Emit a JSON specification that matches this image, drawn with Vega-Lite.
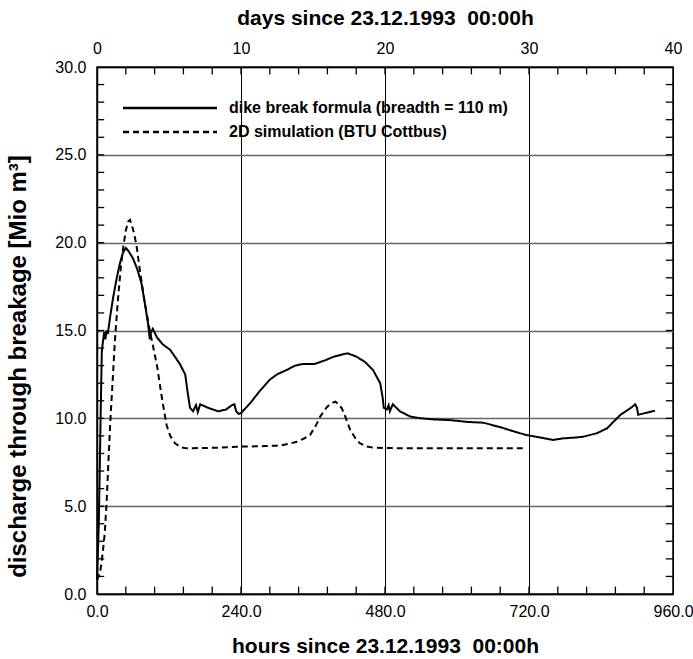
{
  "$schema": "https://vega.github.io/schema/vega-lite/v6.json",
  "width": 576,
  "height": 527,
  "autosize": {"type": "none"},
  "padding": {"left": 97, "top": 67, "right": 20, "bottom": 65},
  "background": "white",
  "config": {
    "view": {"stroke": "black", "strokeWidth": 1.5},
    "font": "Liberation Sans",
    "axis": {
      "labelFont": "Liberation Sans",
      "labelFontSize": 16,
      "labelColor": "black",
      "titleFont": "Liberation Sans",
      "titleFontSize": 21,
      "titleFontWeight": "bold",
      "titleColor": "black",
      "domainColor": "black",
      "domainWidth": 1.5,
      "labelFlush": false,
      "labelOverlap": false
    }
  },
  "datasets": {
    "hticks": [
      {"hours": 48}, {"hours": 96}, {"hours": 144}, {"hours": 192}, {"hours": 240}, {"hours": 288}, {"hours": 336}, {"hours": 384}, {"hours": 432}, {"hours": 480},
      {"hours": 528}, {"hours": 576}, {"hours": 624}, {"hours": 672}, {"hours": 720}, {"hours": 768}, {"hours": 816}, {"hours": 864}, {"hours": 912}
    ],
    "vticks": [
      {"value": 1}, {"value": 2}, {"value": 3}, {"value": 4}, {"value": 5}, {"value": 6}, {"value": 7}, {"value": 8}, {"value": 9}, {"value": 10},
      {"value": 11}, {"value": 12}, {"value": 13}, {"value": 14}, {"value": 15}, {"value": 16}, {"value": 17}, {"value": 18}, {"value": 19}, {"value": 20},
      {"value": 21}, {"value": 22}, {"value": 23}, {"value": 24}, {"value": 25}, {"value": 26}, {"value": 27}, {"value": 28}, {"value": 29}
    ],
    "flow": [
      {"hours": 0, "value": 0.8, "series": "dike break formula (breadth = 110 m)"},
      {"hours": 3, "value": 4.0, "series": "dike break formula (breadth = 110 m)"},
      {"hours": 6, "value": 10.0, "series": "dike break formula (breadth = 110 m)"},
      {"hours": 8, "value": 13.8, "series": "dike break formula (breadth = 110 m)"},
      {"hours": 10, "value": 14.4, "series": "dike break formula (breadth = 110 m)"},
      {"hours": 12, "value": 14.9, "series": "dike break formula (breadth = 110 m)"},
      {"hours": 14, "value": 14.5, "series": "dike break formula (breadth = 110 m)"},
      {"hours": 16, "value": 15.0, "series": "dike break formula (breadth = 110 m)"},
      {"hours": 18, "value": 14.8, "series": "dike break formula (breadth = 110 m)"},
      {"hours": 22, "value": 15.8, "series": "dike break formula (breadth = 110 m)"},
      {"hours": 27, "value": 16.9, "series": "dike break formula (breadth = 110 m)"},
      {"hours": 33, "value": 18.0, "series": "dike break formula (breadth = 110 m)"},
      {"hours": 38, "value": 18.8, "series": "dike break formula (breadth = 110 m)"},
      {"hours": 43, "value": 19.4, "series": "dike break formula (breadth = 110 m)"},
      {"hours": 48, "value": 19.7, "series": "dike break formula (breadth = 110 m)"},
      {"hours": 53, "value": 19.5, "series": "dike break formula (breadth = 110 m)"},
      {"hours": 60, "value": 19.1, "series": "dike break formula (breadth = 110 m)"},
      {"hours": 67, "value": 18.5, "series": "dike break formula (breadth = 110 m)"},
      {"hours": 74, "value": 17.7, "series": "dike break formula (breadth = 110 m)"},
      {"hours": 80, "value": 16.5, "series": "dike break formula (breadth = 110 m)"},
      {"hours": 85, "value": 15.4, "series": "dike break formula (breadth = 110 m)"},
      {"hours": 88, "value": 14.5, "series": "dike break formula (breadth = 110 m)"},
      {"hours": 90, "value": 14.9, "series": "dike break formula (breadth = 110 m)"},
      {"hours": 93, "value": 15.1, "series": "dike break formula (breadth = 110 m)"},
      {"hours": 100, "value": 14.6, "series": "dike break formula (breadth = 110 m)"},
      {"hours": 110, "value": 14.2, "series": "dike break formula (breadth = 110 m)"},
      {"hours": 122, "value": 13.9, "series": "dike break formula (breadth = 110 m)"},
      {"hours": 138, "value": 13.1, "series": "dike break formula (breadth = 110 m)"},
      {"hours": 147, "value": 12.5, "series": "dike break formula (breadth = 110 m)"},
      {"hours": 151, "value": 11.5, "series": "dike break formula (breadth = 110 m)"},
      {"hours": 155, "value": 10.6, "series": "dike break formula (breadth = 110 m)"},
      {"hours": 160, "value": 10.4, "series": "dike break formula (breadth = 110 m)"},
      {"hours": 165, "value": 10.75, "series": "dike break formula (breadth = 110 m)"},
      {"hours": 168, "value": 10.35, "series": "dike break formula (breadth = 110 m)"},
      {"hours": 172, "value": 10.8, "series": "dike break formula (breadth = 110 m)"},
      {"hours": 185, "value": 10.6, "series": "dike break formula (breadth = 110 m)"},
      {"hours": 202, "value": 10.4, "series": "dike break formula (breadth = 110 m)"},
      {"hours": 215, "value": 10.5, "series": "dike break formula (breadth = 110 m)"},
      {"hours": 225, "value": 10.75, "series": "dike break formula (breadth = 110 m)"},
      {"hours": 229, "value": 10.8, "series": "dike break formula (breadth = 110 m)"},
      {"hours": 232, "value": 10.4, "series": "dike break formula (breadth = 110 m)"},
      {"hours": 236, "value": 10.25, "series": "dike break formula (breadth = 110 m)"},
      {"hours": 240, "value": 10.3, "series": "dike break formula (breadth = 110 m)"},
      {"hours": 255, "value": 10.85, "series": "dike break formula (breadth = 110 m)"},
      {"hours": 270, "value": 11.5, "series": "dike break formula (breadth = 110 m)"},
      {"hours": 288, "value": 12.2, "series": "dike break formula (breadth = 110 m)"},
      {"hours": 300, "value": 12.5, "series": "dike break formula (breadth = 110 m)"},
      {"hours": 316, "value": 12.75, "series": "dike break formula (breadth = 110 m)"},
      {"hours": 330, "value": 13.0, "series": "dike break formula (breadth = 110 m)"},
      {"hours": 344, "value": 13.1, "series": "dike break formula (breadth = 110 m)"},
      {"hours": 363, "value": 13.1, "series": "dike break formula (breadth = 110 m)"},
      {"hours": 380, "value": 13.3, "series": "dike break formula (breadth = 110 m)"},
      {"hours": 394, "value": 13.5, "series": "dike break formula (breadth = 110 m)"},
      {"hours": 410, "value": 13.65, "series": "dike break formula (breadth = 110 m)"},
      {"hours": 418, "value": 13.7, "series": "dike break formula (breadth = 110 m)"},
      {"hours": 433, "value": 13.5, "series": "dike break formula (breadth = 110 m)"},
      {"hours": 447, "value": 13.2, "series": "dike break formula (breadth = 110 m)"},
      {"hours": 460, "value": 12.75, "series": "dike break formula (breadth = 110 m)"},
      {"hours": 472, "value": 12.0, "series": "dike break formula (breadth = 110 m)"},
      {"hours": 476, "value": 11.2, "series": "dike break formula (breadth = 110 m)"},
      {"hours": 478, "value": 10.6, "series": "dike break formula (breadth = 110 m)"},
      {"hours": 483, "value": 10.5, "series": "dike break formula (breadth = 110 m)"},
      {"hours": 486, "value": 10.75, "series": "dike break formula (breadth = 110 m)"},
      {"hours": 488, "value": 10.4, "series": "dike break formula (breadth = 110 m)"},
      {"hours": 493, "value": 10.8, "series": "dike break formula (breadth = 110 m)"},
      {"hours": 505, "value": 10.4, "series": "dike break formula (breadth = 110 m)"},
      {"hours": 522, "value": 10.1, "series": "dike break formula (breadth = 110 m)"},
      {"hours": 540, "value": 10.0, "series": "dike break formula (breadth = 110 m)"},
      {"hours": 561, "value": 9.94, "series": "dike break formula (breadth = 110 m)"},
      {"hours": 588, "value": 9.9, "series": "dike break formula (breadth = 110 m)"},
      {"hours": 616, "value": 9.8, "series": "dike break formula (breadth = 110 m)"},
      {"hours": 644, "value": 9.75, "series": "dike break formula (breadth = 110 m)"},
      {"hours": 672, "value": 9.5, "series": "dike break formula (breadth = 110 m)"},
      {"hours": 700, "value": 9.2, "series": "dike break formula (breadth = 110 m)"},
      {"hours": 716, "value": 9.05, "series": "dike break formula (breadth = 110 m)"},
      {"hours": 740, "value": 8.9, "series": "dike break formula (breadth = 110 m)"},
      {"hours": 760, "value": 8.77, "series": "dike break formula (breadth = 110 m)"},
      {"hours": 777, "value": 8.86, "series": "dike break formula (breadth = 110 m)"},
      {"hours": 795, "value": 8.9, "series": "dike break formula (breadth = 110 m)"},
      {"hours": 810, "value": 8.95, "series": "dike break formula (breadth = 110 m)"},
      {"hours": 833, "value": 9.15, "series": "dike break formula (breadth = 110 m)"},
      {"hours": 850, "value": 9.43, "series": "dike break formula (breadth = 110 m)"},
      {"hours": 872, "value": 10.19, "series": "dike break formula (breadth = 110 m)"},
      {"hours": 890, "value": 10.6, "series": "dike break formula (breadth = 110 m)"},
      {"hours": 897, "value": 10.8, "series": "dike break formula (breadth = 110 m)"},
      {"hours": 900, "value": 10.6, "series": "dike break formula (breadth = 110 m)"},
      {"hours": 902, "value": 10.2, "series": "dike break formula (breadth = 110 m)"},
      {"hours": 911, "value": 10.28, "series": "dike break formula (breadth = 110 m)"},
      {"hours": 930, "value": 10.43, "series": "dike break formula (breadth = 110 m)"},
      {"hours": 0, "value": 0.8, "series": "2D simulation (BTU Cottbus)"},
      {"hours": 5, "value": 1.2, "series": "2D simulation (BTU Cottbus)"},
      {"hours": 8, "value": 1.9, "series": "2D simulation (BTU Cottbus)"},
      {"hours": 11, "value": 2.8, "series": "2D simulation (BTU Cottbus)"},
      {"hours": 13, "value": 3.5, "series": "2D simulation (BTU Cottbus)"},
      {"hours": 16, "value": 5.2, "series": "2D simulation (BTU Cottbus)"},
      {"hours": 19, "value": 7.5, "series": "2D simulation (BTU Cottbus)"},
      {"hours": 22, "value": 9.7, "series": "2D simulation (BTU Cottbus)"},
      {"hours": 25, "value": 11.5, "series": "2D simulation (BTU Cottbus)"},
      {"hours": 30, "value": 14.5, "series": "2D simulation (BTU Cottbus)"},
      {"hours": 35, "value": 16.8, "series": "2D simulation (BTU Cottbus)"},
      {"hours": 40, "value": 18.7, "series": "2D simulation (BTU Cottbus)"},
      {"hours": 44, "value": 19.8, "series": "2D simulation (BTU Cottbus)"},
      {"hours": 48, "value": 20.7, "series": "2D simulation (BTU Cottbus)"},
      {"hours": 52, "value": 21.2, "series": "2D simulation (BTU Cottbus)"},
      {"hours": 55, "value": 21.3, "series": "2D simulation (BTU Cottbus)"},
      {"hours": 58, "value": 21.0, "series": "2D simulation (BTU Cottbus)"},
      {"hours": 62, "value": 20.5, "series": "2D simulation (BTU Cottbus)"},
      {"hours": 66, "value": 19.8, "series": "2D simulation (BTU Cottbus)"},
      {"hours": 72, "value": 18.3, "series": "2D simulation (BTU Cottbus)"},
      {"hours": 80, "value": 16.5, "series": "2D simulation (BTU Cottbus)"},
      {"hours": 88, "value": 15.0, "series": "2D simulation (BTU Cottbus)"},
      {"hours": 100, "value": 13.0, "series": "2D simulation (BTU Cottbus)"},
      {"hours": 108, "value": 11.2, "series": "2D simulation (BTU Cottbus)"},
      {"hours": 116, "value": 9.6, "series": "2D simulation (BTU Cottbus)"},
      {"hours": 122, "value": 9.0, "series": "2D simulation (BTU Cottbus)"},
      {"hours": 130, "value": 8.58, "series": "2D simulation (BTU Cottbus)"},
      {"hours": 140, "value": 8.35, "series": "2D simulation (BTU Cottbus)"},
      {"hours": 150, "value": 8.29, "series": "2D simulation (BTU Cottbus)"},
      {"hours": 200, "value": 8.33, "series": "2D simulation (BTU Cottbus)"},
      {"hours": 240, "value": 8.39, "series": "2D simulation (BTU Cottbus)"},
      {"hours": 280, "value": 8.42, "series": "2D simulation (BTU Cottbus)"},
      {"hours": 305, "value": 8.45, "series": "2D simulation (BTU Cottbus)"},
      {"hours": 320, "value": 8.55, "series": "2D simulation (BTU Cottbus)"},
      {"hours": 333, "value": 8.67, "series": "2D simulation (BTU Cottbus)"},
      {"hours": 345, "value": 8.85, "series": "2D simulation (BTU Cottbus)"},
      {"hours": 355, "value": 9.05, "series": "2D simulation (BTU Cottbus)"},
      {"hours": 365, "value": 9.6, "series": "2D simulation (BTU Cottbus)"},
      {"hours": 372, "value": 10.1, "series": "2D simulation (BTU Cottbus)"},
      {"hours": 383, "value": 10.63, "series": "2D simulation (BTU Cottbus)"},
      {"hours": 390, "value": 10.85, "series": "2D simulation (BTU Cottbus)"},
      {"hours": 397, "value": 10.95, "series": "2D simulation (BTU Cottbus)"},
      {"hours": 403, "value": 10.8, "series": "2D simulation (BTU Cottbus)"},
      {"hours": 408, "value": 10.57, "series": "2D simulation (BTU Cottbus)"},
      {"hours": 415, "value": 10.0, "series": "2D simulation (BTU Cottbus)"},
      {"hours": 422, "value": 9.34, "series": "2D simulation (BTU Cottbus)"},
      {"hours": 430, "value": 8.9, "series": "2D simulation (BTU Cottbus)"},
      {"hours": 438, "value": 8.58, "series": "2D simulation (BTU Cottbus)"},
      {"hours": 450, "value": 8.4, "series": "2D simulation (BTU Cottbus)"},
      {"hours": 460, "value": 8.33, "series": "2D simulation (BTU Cottbus)"},
      {"hours": 500, "value": 8.3, "series": "2D simulation (BTU Cottbus)"},
      {"hours": 600, "value": 8.29, "series": "2D simulation (BTU Cottbus)"},
      {"hours": 715, "value": 8.29, "series": "2D simulation (BTU Cottbus)"}
    ]
  },
  "layer": [
    {
      "layer": [
        {
          "data": {"name": "flow"},
          "mark": {"type": "line", "color": "black", "strokeWidth": 2},
          "encoding": {
            "x": {
              "field": "hours",
              "type": "quantitative",
              "scale": {"domain": [0, 960], "nice": false, "zero": false},
              "axis": {
                "orient": "bottom",
                "title": "hours since 23.12.1993\u00a0 00:00h",
                "values": [0, 240, 480, 720, 960],
                "format": ".1f",
                "ticks": false,
                "labelPadding": 9,
                "titlePadding": 16,
                "grid": true,
                "gridColor": "black",
                "gridWidth": 1
              }
            },
            "y": {
              "field": "value",
              "type": "quantitative",
              "scale": {"domain": [0, 30], "nice": false, "zero": false},
              "axis": {
                "orient": "left",
                "title": "discharge through breakage [Mio m³]",
                "titleFontSize": 24,
                "titleX": -79,
                "titleY": 299,
                "titleBaseline": "middle",
                "titleAlign": "center",
                "values": [0, 5, 10, 15, 20, 25, 30],
                "format": ".1f",
                "ticks": false,
                "labelPadding": 11,
                "grid": true,
                "gridColor": "#666666",
                "gridWidth": 1.3
              }
            },
            "strokeDash": {
              "field": "series",
              "type": "nominal",
              "scale": {
                "domain": ["dike break formula (breadth = 110 m)", "2D simulation (BTU Cottbus)"],
                "range": [[1, 0], [6, 4]]
              },
              "legend": {
                "orient": "none",
                "legendX": 62,
                "legendY": 30,
                "title": null,
                "symbolType": "M-5,0H5",
                "symbolSize": 353,
                "symbolStrokeWidth": 2.5,
                "symbolStrokeColor": "black",
                "labelFont": "Liberation Sans",
                "labelFontSize": 16,
                "labelFontWeight": "bold",
                "labelColor": "black",
                "labelLimit": 500,
                "labelOffset": 48,
                "rowPadding": 5
              }
            }
          }
        },
        {
          "data": {"name": "hticks"},
          "mark": {"type": "rule", "color": "black", "strokeWidth": 1.3},
          "encoding": {
            "x": {"field": "hours", "type": "quantitative"},
            "y": {"datum": 0},
            "y2": {"datum": 0.42}
          }
        },
        {
          "data": {"name": "vticks"},
          "mark": {"type": "rule", "color": "black", "strokeWidth": 1.3},
          "encoding": {
            "y": {"field": "value", "type": "quantitative"},
            "x": {"datum": 0},
            "x2": {"datum": 12}
          }
        },
        {
          "data": {"name": "vticks"},
          "mark": {"type": "rule", "color": "black", "strokeWidth": 1.3},
          "encoding": {
            "y": {"field": "value", "type": "quantitative"},
            "x": {"datum": 960},
            "x2": {"datum": 948}
          }
        }
      ]
    },
    {
      "data": {"values": [{"days": 0}, {"days": 40}]},
      "mark": {"type": "point", "opacity": 0},
      "encoding": {
        "x": {
          "field": "days",
          "type": "quantitative",
          "scale": {"domain": [0, 40], "nice": false, "zero": false},
          "axis": {
            "orient": "top",
            "title": "days since 23.12.1993\u00a0 00:00h",
            "values": [0, 10, 20, 30, 40],
            "format": "d",
            "ticks": false,
            "labelPadding": 11,
            "titlePadding": 12,
            "grid": false
          }
        }
      }
    },
    {
      "data": {"name": "hticks"},
      "mark": {"type": "rule", "color": "black", "strokeWidth": 1.3},
      "encoding": {
        "x": {"field": "hours", "type": "quantitative", "scale": {"domain": [0, 960], "nice": false, "zero": false}, "axis": null},
        "y": {"datum": 30, "scale": {"domain": [0, 30], "nice": false, "zero": false}, "axis": null},
        "y2": {"datum": 29.58}
      }
    }
  ],
  "resolve": {"scale": {"x": "independent", "y": "independent"}}
}
